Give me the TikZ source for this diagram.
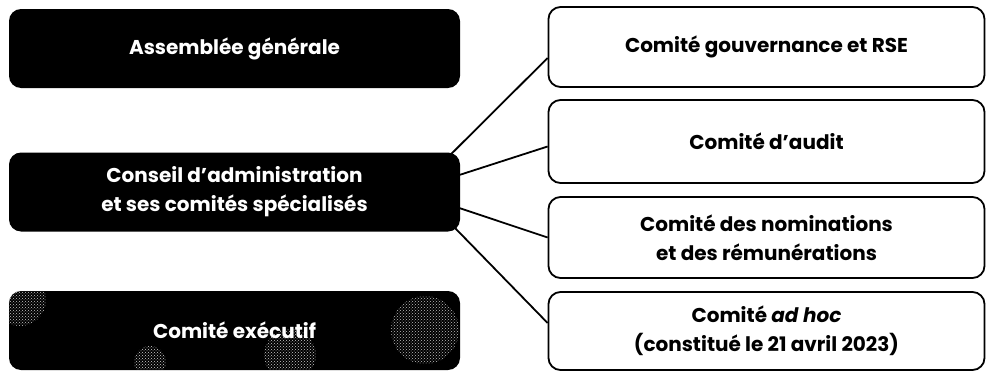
\documentclass[tikz,border=0pt]{standalone}
\usepackage{fontspec}
\setmainfont{Poppins}
\usetikzlibrary{positioning,backgrounds,patterns}
\tikzset{
  organe/.style={rectangle, rounded corners=12pt, fill=black, text=white,
    minimum width=451pt, minimum height=79pt, align=center,
    font=\bfseries\fontsize{20}{29}\selectfont},
  comite/.style={rectangle, rounded corners=12pt, draw=black, line width=1.8pt,
    fill=white, minimum width=436pt, minimum height=80pt, align=center,
    font=\bfseries\fontsize{20}{29}\selectfont},
  lien/.style={line width=1.8pt}
}

\begin{document}
\begin{tikzpicture}[x=1pt,y=-1pt]
  \useasboundingbox (0,0) rectangle (989,372);
  % governance bodies
  \node[organe] (ag) at (234.5,48.5) {Assemblée générale};
  \node[organe] (ca) at (234.5,192) {Conseil d’administration\\et ses comités spécialisés};
  \node[organe] (ce) at (234.5,330.5) {};
  % grain on the executive committee box
  \begin{scope}
    \clip[rounded corners=12pt] (ce.south west) rectangle (ce.north east);
    \fill[pattern=crosshatch dots, pattern color=gray!45] (20,300) circle (26);
    \fill[pattern=crosshatch dots, pattern color=gray!35] (150,362) circle (16);
    \fill[pattern=crosshatch dots, pattern color=gray!40] (290,355) circle (26);
    \fill[pattern=crosshatch dots, pattern color=gray!50] (425,330) circle (34);
  \end{scope}
  \node[organe, fill=none] at (ce) {Comité exécutif};
  % committees
  \node[comite] (gouv) at (766.5,47) {Comité gouvernance et RSE};
  \node[comite, minimum height=83pt] (audit) at (766.5,141.5) {Comité d’audit};
  \node[comite, minimum height=81pt] (nomin) at (766.5,237.5) {Comité des nominations\\et des rémunérations};
  \node[comite, minimum height=78pt] (adhoc) at (766.5,331) {Comité \textit{ad hoc}\\(constitué le 21 avril 2023)};
  \begin{scope}[on background layer]
    \draw[lien] ([xshift=-12pt,yshift=35pt]ca.east) -- ([yshift=-11pt]gouv.west);
    \draw[lien] ([xshift=-4pt,yshift=16pt]ca.east) -- ([yshift=-5pt]audit.west);
    \draw[lien] ([xshift=-4pt,yshift=-15pt]ca.east) -- (nomin.west);
    \draw[lien] ([xshift=-12pt,yshift=-29pt]ca.east) -- ([yshift=8pt]adhoc.west);
  \end{scope}
\end{tikzpicture}
\end{document}
